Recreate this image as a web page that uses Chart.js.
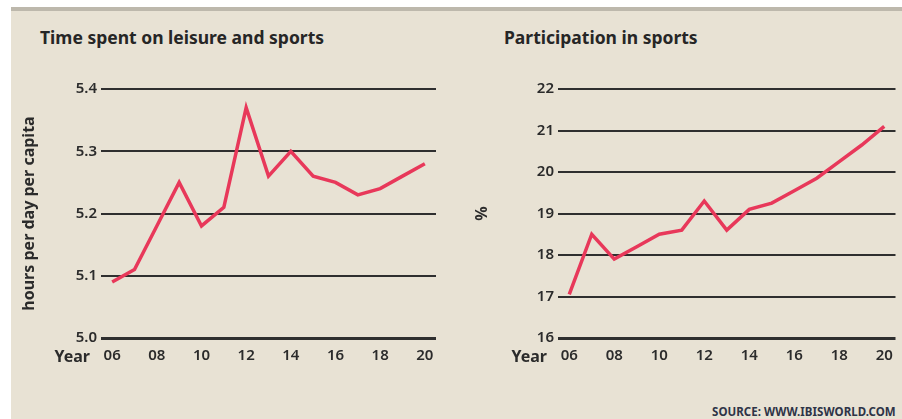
<!DOCTYPE html>
<html>
<head>
<meta charset="utf-8">
<script src="https://cdn.jsdelivr.net/npm/chart.js@4.4.1/dist/chart.umd.min.js"></script>
<style>
  body { margin: 0; background: #fff; width: 902px; height: 419px; overflow: hidden; }
  #panel { position: absolute; left: 11px; top: 7px; width: 891px; height: 412px; background: #e8e2d4; border-top: 4px solid #bdb8ac; box-sizing: border-box; }
  .title { position: absolute; font-family: "Noto Sans", sans-serif; font-weight: 700; font-size: 17.5px; color: #262626; white-space: nowrap; }
  #source { position: absolute; left: 712px; top: 404px; font-family: "Noto Sans", sans-serif; font-weight: 700; font-size: 11.5px; color: #2e3447; white-space: nowrap; letter-spacing: 0.05px; }
  .box { position: absolute; }
</style>
</head>
<body>
<div id="panel"></div>
<div class="title" style="left:40px; top:25px;">Time spent on leisure and sports</div>
<div class="title" style="left:504px; top:25px;">Participation in sports</div>
<div class="box" style="left:11px; top:60px; width:439px; height:320px;"><canvas id="leisure"></canvas></div>
<div class="box" style="left:450px; top:60px; width:452px; height:320px;"><canvas id="sports"></canvas></div>
<div id="source">SOURCE: WWW.IBISWORLD.COM</div>
<script>
// years 2006..2020, only even ones get a label
const years = ['06', '07', '08', '09', '10', '11', '12', '13', '14', '15', '16', '17', '18', '19', '20'];
const leisureHours = [5.09, 5.11, 5.18, 5.25, 5.18, 5.21, 5.37, 5.26, 5.30, 5.26, 5.25, 5.23, 5.24, 5.26, 5.28];
const sportsShare = [17.05, 18.5, 17.9, 18.2, 18.5, 18.6, 19.3, 18.6, 19.1, 19.25, 19.55, 19.85, 20.25, 20.65, 21.1];
const leisureTicks = [5.0, 5.1, 5.2, 5.3, 5.4];
const sportsTicks = [16, 17, 18, 19, 20, 21, 22];

const lineColor = '#e8385a';
const textColor = '#2b2b2b';
const font = { family: '"Noto Sans", sans-serif', size: 15, weight: '600' };

// draws the "Year" word next to the x tick labels
const yearLabel = {
  id: 'yearLabel',
  afterDraw(chart) {
    const ctx = chart.ctx;
    const area = chart.chartArea;
    ctx.save();
    ctx.font = '700 16px "Noto Sans", sans-serif';
    ctx.fillStyle = textColor;
    ctx.textAlign = 'right';
    ctx.textBaseline = 'middle';
    ctx.fillText('Year', area.left - 11, area.bottom + 19);
    ctx.restore();
  }
};

function makeChart(id, values, ticks, yTitle, titlePad, yWidth, padRight, fmt) {
  const ctx = document.getElementById(id).getContext('2d');
  return new Chart(ctx, {
    type: 'line',
    data: {
      labels: years,
      datasets: [{
        data: values,
        borderColor: lineColor,
        borderWidth: 3.5,
        pointRadius: 0,
        tension: 0,
        fill: false
      }]
    },
    options: {
      responsive: true,
      maintainAspectRatio: false,
      animation: false,
      layout: { padding: { top: 29, right: padRight, left: 0, bottom: 0 } },
      plugins: { legend: { display: false }, tooltip: { enabled: false } },
      scales: {
        x: {
          offset: true,
          grid: { display: false, drawTicks: false },
          border: { display: false },
          ticks: {
            color: textColor, font: font, padding: 9, autoSkip: false, maxRotation: 0,
            callback: (v, i) => (i % 2 === 0 ? years[i] : '')
          },
          afterFit: (s) => { s.height = 42; }
        },
        y: {
          min: ticks[0],
          max: ticks[ticks.length - 1],
          afterBuildTicks: (s) => { s.ticks = ticks.map(v => ({ value: v })); },
          grid: {
            color: '#2f2f2f',
            lineWidth: (c) => (c.index === 0 ? 3 : 2),
            drawTicks: false
          },
          border: { display: false },
          ticks: { color: textColor, font: font, padding: 4, callback: fmt },
          title: {
            display: true, text: yTitle, color: textColor,
            font: { family: '"Noto Sans", sans-serif', size: 16, weight: '700' },
            padding: { top: titlePad, bottom: 0 }
          },
          afterFit: (s) => { s.width = yWidth; }
        }
      }
    },
    plugins: [yearLabel]
  });
}

makeChart('leisure', leisureHours, leisureTicks, 'hours per day per capita', 9, 90, 14, v => v.toFixed(1));
makeChart('sports', sportsShare, sportsTicks, '%', 23, 108, 5, v => String(v));
</script>
</body>
</html>
